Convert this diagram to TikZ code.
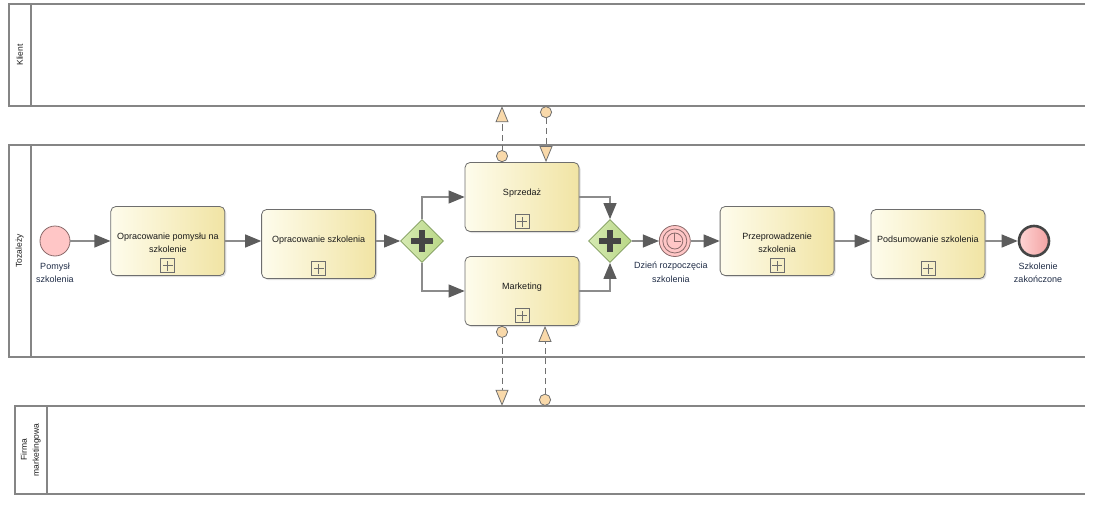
\documentclass[tikz,border=0pt]{standalone}
\usepackage{fontspec}
\setmainfont{Liberation Sans}
\usepackage{tikz}
\usetikzlibrary{arrows.meta,positioning,shapes.geometric,shadows}
\definecolor{poolgray}{HTML}{858585}
\definecolor{taskleft}{HTML}{FEFCEC}
\definecolor{taskright}{HTML}{F1E4A4}
\definecolor{taskedge}{HTML}{6E6E6E}
\definecolor{gwleft}{HTML}{D6EAB2}
\definecolor{gwright}{HTML}{B9D787}
\definecolor{gwedge}{HTML}{7E9A5C}
\definecolor{gwplus}{HTML}{454545}
\definecolor{evfill}{HTML}{FFC6C6}
\definecolor{evedge}{HTML}{8A6A6A}
\definecolor{endleft}{HTML}{FFD4D4}
\definecolor{endright}{HTML}{F2A2A2}
\definecolor{flowline}{HTML}{8C8C8C}
\definecolor{flowhead}{HTML}{5C5C5C}
\definecolor{msgfill}{HTML}{F9D9AA}
\definecolor{msgline}{HTML}{707070}
\definecolor{textdark}{HTML}{1A1A1A}
\definecolor{labelnavy}{HTML}{1E2B45}
\tikzset{
  pool/.style={draw=none,inner sep=0pt},
  poolline/.style={draw=poolgray,line width=1.8pt},
  poolname/.style={rotate=90,align=center,font=\fontsize{8.5}{12}\selectfont,
    text=textdark,inner sep=0pt},
  task/.style={draw=taskedge,rounded corners=5pt,line width=0.8pt,
    left color=taskleft,right color=taskright,minimum width=114pt,
    minimum height=69pt,inner sep=0pt,
    drop shadow={shadow xshift=1.5pt,shadow yshift=-1.5pt,fill=black!25},
    path picture={
      \draw[draw=taskedge,line width=0.7pt,sharp corners]
        ([xshift=-7pt,yshift=3pt]path picture bounding box.south)
        rectangle ++(14pt,14pt);
      \draw[draw=taskedge,line width=0.7pt,sharp corners]
        ([yshift=5pt]path picture bounding box.south) -- ++(0pt,10pt)
        ([xshift=-5pt,yshift=10pt]path picture bounding box.south) -- ++(10pt,0pt);
    }},
  tasktext/.style={anchor=north,align=center,inner sep=0pt,text=textdark,
    font=\fontsize{9}{12.5}\selectfont},
  gateway/.style={diamond,draw=gwedge,line width=0.8pt,left color=gwleft,
    right color=gwright,minimum width=43pt,minimum height=43pt,inner sep=0pt,
    path picture={
      \draw[draw=gwplus,line width=5.5pt]
        ([xshift=-11pt]path picture bounding box.center) -- ++(22pt,0pt)
        ([yshift=-11pt]path picture bounding box.center) -- ++(0pt,22pt);
    }},
  startevent/.style={circle,draw=evedge,line width=0.8pt,fill=evfill,
    minimum size=30pt,inner sep=0pt},
  timerevent/.style={circle,draw=evedge,line width=0.8pt,fill=evfill,
    minimum size=31pt,inner sep=0pt,
    path picture={
      \draw[draw=evedge,line width=0.8pt]
        (path picture bounding box.center) circle[radius=12pt]
        (path picture bounding box.center) circle[radius=8pt];
      \draw[draw=evedge,line width=0.8pt]
        ([yshift=8pt]path picture bounding box.center)
        -- (path picture bounding box.center) -- ++(6pt,0pt);
    }},
  endevent/.style={circle,draw=gwplus,line width=2.6pt,left color=endleft,
    right color=endright,minimum size=30pt,inner sep=0pt},
  eventlabel/.style={below,align=center,inner sep=0pt,text=labelnavy,
    font=\fontsize{9}{13.5}\selectfont},
  flow/.style={draw=flowline,line width=1.2pt,
    -{Triangle[length=16pt,width=13pt,color=flowhead]}},
  msg/.style={draw=msgline,line width=0.8pt,dash pattern=on 6pt off 4pt,
    {Circle[open,length=12pt,width=12pt,fill=msgfill]}-{Triangle[open,length=16pt,width=13pt,fill=msgfill]}}
}
\begin{document}
\begin{tikzpicture}[x=1pt,y=-1pt]
  \useasboundingbox (0,0) rectangle (1094,508);
  % pools
  \node[pool,minimum width=1076pt,minimum height=102pt] (klient) at (547,55) {};
  \draw[poolline] (klient.north east) -- (klient.north west) -- (klient.south west) -- (klient.south east);
  \draw[poolline] ([xshift=22pt]klient.north west) -- ([xshift=22pt]klient.south west);
  \node[poolname] (klientname) at ([xshift=11pt]klient.west) {Klient};
  \node[pool,minimum width=1076pt,minimum height=212pt] (tozalezy) at (547,251) {};
  \draw[poolline] (tozalezy.north east) -- (tozalezy.north west) -- (tozalezy.south west) -- (tozalezy.south east);
  \draw[poolline] ([xshift=22pt]tozalezy.north west) -- ([xshift=22pt]tozalezy.south west);
  \node[poolname] (tozalezyname) at ([xshift=11pt]tozalezy.west) {Tozależy};
  \node[pool,minimum width=1070pt,minimum height=88pt] (firma) at (550,450) {};
  \draw[poolline] (firma.north east) -- (firma.north west) -- (firma.south west) -- (firma.south east);
  \draw[poolline] ([xshift=32.5pt]firma.north west) -- ([xshift=32.5pt]firma.south west);
  \node[poolname] (firmaname) at ([xshift=16pt]firma.west) {Firma\\marketingowa};
  % process
  \node[startevent] (idea) at (55,241) {};
  \node[eventlabel,below=6pt of idea] (idealbl) {Pomysł\\szkolenia};
  \node[task,right=40pt of idea] (plan) {};
  \node[tasktext] (plantxt) at ([yshift=8pt]plan.center) {Opracowanie pomysłu na\\szkolenie};
  \node[task,right=36pt of plan,yshift=-3pt] (develop) {};
  \node[tasktext] (developtxt) at ([yshift=8pt]develop.center) {Opracowanie szkolenia};
  \node[gateway] (split) at (422,241) {};
  \node[task] (sales) at (522,197) {};
  \node[tasktext] (salestxt) at ([yshift=8pt]sales.center) {Sprzedaż};
  \node[task] (marketing) at (522,291) {};
  \node[tasktext] (marketingtxt) at ([yshift=8pt]marketing.center) {Marketing};
  \node[gateway] (join) at (610,241) {};
  \node[timerevent,right=27pt of join] (timer) {};
  \node[eventlabel,below=5pt of timer,xshift=-4pt] (timerlbl) {Dzień rozpoczęcia\\szkolenia};
  \node[task,right=29pt of timer] (conduct) {};
  \node[tasktext] (conducttxt) at ([yshift=8pt]conduct.center) {Przeprowadzenie\\szkolenia};
  \node[task,right=36pt of conduct,yshift=-3pt] (summary) {};
  \node[tasktext] (summarytxt) at ([yshift=8pt]summary.center) {Podsumowanie szkolenia};
  \node[endevent] (finish) at (1034,241) {};
  \node[eventlabel,below=5pt of finish,xshift=4pt] (finishlbl) {Szkolenie\\zakończone};
  % sequence flows
  \draw[flow] (idea) -- (plan);
  \draw[flow] (plan.east) -- (plan.east -| develop.west);
  \draw[flow] (develop.east |- split) -- (split);
  \draw[flow] (split.north) |- (sales.west);
  \draw[flow] (split.south) |- (marketing.west);
  \draw[flow] (sales.east) -| (join.north);
  \draw[flow] (marketing.east) -| (join.south);
  \draw[flow] (join) -- (timer);
  \draw[flow] (timer) -- (conduct);
  \draw[flow] (conduct.east) -- (conduct.east -| summary.west);
  \draw[flow] (summary.east |- finish) -- (finish);
  % message flows
  \draw[msg] ([xshift=-20pt]sales.north) -- ([xshift=-20pt]sales.north |- klient.south);
  \draw[msg] ([xshift=24pt]sales.north |- klient.south) -- ([xshift=24pt]sales.north);
  \draw[msg] ([xshift=-20pt]marketing.south) -- ([xshift=-20pt]marketing.south |- firma.north);
  \draw[msg] ([xshift=23pt]marketing.south |- firma.north) -- ([xshift=23pt]marketing.south);
\end{tikzpicture}
\end{document}
